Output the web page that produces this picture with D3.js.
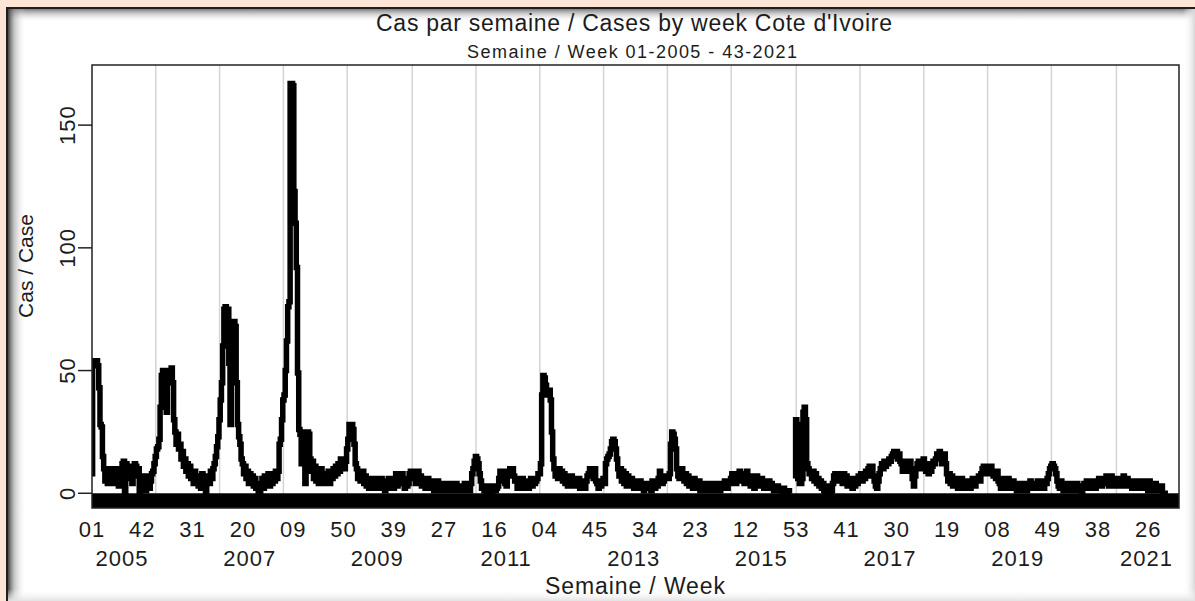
<!DOCTYPE html>
<html>
<head>
<meta charset="utf-8">
<script src="https://cdn.jsdelivr.net/npm/d3@7"></script>
<style>
  html, body { margin: 0; padding: 0; background: #fce4d6; }
  svg { display: block; }
  text { font-family: "Liberation Sans", Arial, sans-serif; fill: #1c1c1c; }
</style>
</head>
<body>
<svg id="chart" width="1195" height="601"></svg>
<script>
// ISO weeks in each year, 2005 .. 2021
var years = d3.range(2005, 2022);
var weeksInYear = [52,52,52,52,53,52,52,52,52,52,53,52,52,52,52,53,52];

// weekly cases, one array per year (null = no report)
var cases2005 = [8,54,54,53,54,52,43,28,27,15,10,5,9,4,8,10,5,9,4,7,10,5,3,8,10,12,13,0,12,8,11,6,9,4,10,12,11,7,10,0,6,2,7,3,1,6,7,2,5,8,9,12];
var cases2006 = [15,18,19,22,35,48,50,49,50,33,47,50,49,51,45,30,25,20,24,18,20,14,17,11,14,9,12,7,11,6,8,4,9,5,7,3,6,2,8,4,3,0,5,7,4,9,6,10,12,15,19,23];
var cases2007 = [30,38,45,60,75,76,74,75,53,28,55,70,70,68,45,28,23,20,14,12,8,11,6,9,4,8,5,7,3,6,2,4,0,0,4,6,2,7,3,5,8,3,7,4,8,5,9,6,9,20,22,30];
var cases2008 = [38,40,50,62,76,78,167,167,166,123,110,92,49,26,24,12,22,25,4,20,25,24,14,9,13,6,11,5,9,4,8,10,5,4,8,5,6,9,4,8,6,10,7,11,8,12,9,14,11,14,10,13];
var cases2009 = [18,22,28,27,28,26,20,12,10,6,9,5,7,9,4,7,3,6,2,5,6,2,4,6,2,3,5,2,6,3,4,1,5,2,6,2,4,5,2,6,8,3,7,4,5,8,5,2,6,3,4,8,9];
var cases2010 = [6,9,7,4,8,9,5,7,3,6,5,2,4,6,3,2,5,3,1,4,3,5,2,1,4,3,1,3,4,2,1,3,4,1,3,2,4,1,2,3,1,3,2,4,1,2,3,1,4,8,10,13];
var cases2011 = [15,14,12,8,5,2,3,1,3,0,2,3,1,0,2,3,1,2,3,6,9,6,9,5,4,3,7,9,10,8,10,7,5,6,2,5,3,4,6,2,4,3,5,2,4,6,3,6,4,5,6,8];
var cases2012 = [8,12,40,48,47,44,42,40,42,38,25,14,10,7,9,6,10,7,9,5,8,4,7,3,6,4,7,3,5,6,3,5,6,2,5,3,4,2,5,7,8,10,9,10,6,10,5,4,2,4,3,5];
var cases2013 = [6,4,12,14,15,16,18,21,22,21,18,14,10,7,10,5,9,4,8,3,7,5,3,6,4,2,5,3,4,2,5,3,4,1,3,4,2,3,4,1,5,3,2,4,3,6,9,7,4,5,6,7];
var cases2014 = [7,6,8,20,25,24,22,18,10,7,6,9,10,7,5,8,4,7,3,6,4,2,6,4,2,4,5,1,3,2,4,1,3,2,4,1,3,2,4,1,3,2,4,1,3,4,2,5,3,2,5,4];
var cases2015 = [6,8,5,7,4,8,6,9,5,8,7,4,8,9,6,5,3,7,5,2,5,7,4,6,3,6,4,2,5,2,4,5,2,4,3,1,3,2,3,1,1,2,0,2,1,0,0,1,0,null,null,null,6];
var cases2016 = [30,28,8,4,4,6,33,35,30,12,10,8,9,6,9,5,8,4,6,3,5,2,4,1,0,3,0,2,0,1,4,7,8,6,8,5,8,7,4,8,6,7,3,5,4,6,2,5,3,6,4,7];
var cases2017 = [7,8,5,8,6,9,7,10,11,9,11,7,5,3,2,5,8,10,12,10,13,11,13,12,14,13,15,16,17,16,17,14,16,13,12,9,11,13,10,9,12,13,10,6,3,7,10,12,13,10,12,13];
var cases2018 = [14,12,9,11,8,12,9,11,13,12,14,16,15,17,16,12,15,16,12,8,5,8,4,7,3,5,6,3,2,5,4,6,2,4,5,2,4,5,2,4,6,4,3,6,5,7,5,8,10,11,8,11];
var cases2019 = [10,11,8,11,9,7,9,6,9,5,4,2,6,5,2,5,3,6,4,2,4,5,2,4,1,3,4,2,1,3,4,2,1,4,3,5,3,2,4,2,4,5,2,4,5,3,2,5,4,6,8,10];
var cases2020 = [11,12,11,10,8,5,3,2,5,3,1,4,2,1,4,2,1,4,3,1,3,4,2,1,3,0,3,4,2,5,4,5,2,4,5,3,2,5,4,6,4,3,5,6,4,7,5,3,6,7,4,6,3];
var cases2021 = [6,4,6,3,6,5,7,4,3,6,5,3,5,2,4,5,3,2,5,4,2,4,5,2,4,3,1,5,3,4,2,1,4,3,1,3,1,3,0,0,0,0,0];

// axis labels: a week label every 41 weeks from 01-2005, year labels on odd years
var weekTicks = ["01","42","31","20","09","50","39","27","16","04","45","34","23","12","53","41","30","19","08","49","38","26"];
var yearLabels = ["2005","2007","2009","2011","2013","2015","2017","2019","2021"];
var yTicks = [0, 50, 100, 150];

var title = "Cas par semaine / Cases by week Cote d'Ivoire",
    subtitle = "Semaine / Week 01-2005 - 43-2021";

var allCases = [].concat(cases2005, cases2006, cases2007, cases2008, cases2009, cases2010,
  cases2011, cases2012, cases2013, cases2014, cases2015, cases2016, cases2017, cases2018,
  cases2019, cases2020, cases2021);
var series = allCases.map(function (v, i) { return { i: i, v: v }; });

// index of week 01 of every year
var yearStart = {};
var acc = 0;
years.forEach(function (yr, k) { yearStart[yr] = acc; acc += weeksInYear[k]; });
var lastWeek = acc - 1;

var svg = d3.select("#chart"),
    W = +svg.attr("width"),
    H = +svg.attr("height"),
    margin = { top: 65, right: 16, bottom: 93, left: 92 };

var x = d3.scaleLinear().domain([0, lastWeek]).range([margin.left, W - margin.right]);
var y = d3.scaleLinear().domain([-6, 174.5]).range([H - margin.bottom, margin.top]);

// ---- panel frame with inner shadow
var defs = svg.append("defs");
function grad(id, x2, y2, stops) {
  var g = defs.append("linearGradient").attr("id", id)
    .attr("x1", 0).attr("y1", 0).attr("x2", x2).attr("y2", y2);
  stops.forEach(function (s) {
    g.append("stop").attr("offset", s[0]).attr("stop-color", s[1]).attr("stop-opacity", s[2]);
  });
}
grad("shTop", 0, 1, [[0, "#6f6f6f", 0.9], [1, "#ffffff", 0]]);
grad("shLeft", 1, 0, [[0, "#3a3a3a", 0.95], [0.35, "#8a8a8a", 0.5], [1, "#ffffff", 0]]);
grad("shRight", 1, 0, [[0, "#ffffff", 0], [1, "#d8d8d8", 1]]);
grad("shBottom", 0, 1, [[0, "#ffffff", 0], [1, "#e2e2e2", 1]]);

svg.append("rect").attr("x", 6).attr("y", 7).attr("width", W).attr("height", H).attr("fill", "#fff");
svg.append("rect").attr("x", 8).attr("y", 9).attr("width", W).attr("height", 13).attr("fill", "url(#shTop)");
svg.append("rect").attr("x", 8).attr("y", 9).attr("width", 18).attr("height", H).attr("fill", "url(#shLeft)");
svg.append("rect").attr("x", 1183).attr("y", 9).attr("width", 12).attr("height", H).attr("fill", "url(#shRight)");
svg.append("rect").attr("x", 8).attr("y", 589).attr("width", W).attr("height", 12).attr("fill", "url(#shBottom)");
svg.append("rect").attr("x", 6).attr("y", 7).attr("width", W).attr("height", 2).attr("fill", "#1e1e1e");
svg.append("rect").attr("x", 6).attr("y", 7).attr("width", 2).attr("height", H).attr("fill", "#1e1e1e");

// ---- titles
svg.append("text")
  .attr("x", 634).attr("y", 31)
  .attr("text-anchor", "middle")
  .attr("textLength", 516)
  .style("font-size", "23px")
  .text(title);
svg.append("text")
  .attr("x", 632).attr("y", 58)
  .attr("text-anchor", "middle")
  .attr("textLength", 330)
  .style("font-size", "18px")
  .text(subtitle);

// ---- plot area
var plot = svg.append("g");
defs.append("clipPath").attr("id", "clip")
  .append("rect")
  .attr("x", x(0)).attr("y", y.range()[1])
  .attr("width", x(lastWeek) - x(0)).attr("height", y.range()[0] - y.range()[1]);

// yearly grid lines
plot.selectAll(".grid")
  .data(years.slice(1))
  .enter().append("line")
    .attr("class", "grid")
    .attr("x1", function (d) { return x(yearStart[d]); })
    .attr("x2", function (d) { return x(yearStart[d]); })
    .attr("y1", y.range()[1])
    .attr("y2", y.range()[0])
    .attr("stroke", "#d4d4d4")
    .attr("stroke-width", 1.5);

// black base band under zero
plot.append("rect")
  .attr("x", x(0))
  .attr("y", y(0))
  .attr("width", x(lastWeek) - x(0))
  .attr("height", y(y.domain()[0]) - y(0))
  .attr("fill", "#000");

var line = d3.line()
  .defined(function (d) { return d.v !== null; })
  .x(function (d) { return x(d.i); })
  .y(function (d) { return y(d.v); })
  .curve(d3.curveStep);

plot.append("path")
  .datum(series)
  .attr("clip-path", "url(#clip)")
  .attr("d", line)
  .attr("fill", "none")
  .attr("stroke", "#000")
  .attr("stroke-width", 5.5)
  .attr("stroke-linejoin", "miter");

// plot border
plot.append("rect")
  .attr("x", x(0)).attr("y", y.range()[1])
  .attr("width", x(lastWeek) - x(0))
  .attr("height", y.range()[0] - y.range()[1])
  .attr("fill", "none")
  .attr("stroke", "#222")
  .attr("stroke-width", 1.5);

// ---- y axis
var yAxis = svg.append("g");
yAxis.selectAll("line")
  .data(yTicks)
  .enter().append("line")
    .attr("x1", x(0) - 14).attr("x2", x(0))
    .attr("y1", function (d) { return y(d); })
    .attr("y2", function (d) { return y(d); })
    .attr("stroke", "#222")
    .attr("stroke-width", 1.5);
yAxis.selectAll("text")
  .data(yTicks)
  .enter().append("text")
    .attr("transform", function (d) { return "translate(75," + y(d) + ") rotate(-90)"; })
    .attr("text-anchor", "middle")
    .style("font-size", "22px")
    .style("letter-spacing", "1px")
    .text(function (d) { return d; });

svg.append("text")
  .attr("transform", "translate(33,266) rotate(-90)")
  .attr("text-anchor", "middle")
  .style("font-size", "21px")
  .text("Cas / Case");

// ---- x axis labels
svg.append("g").selectAll("text")
  .data(weekTicks)
  .enter().append("text")
    .attr("x", function (d, i) { return x(i * 41); })
    .attr("y", 537)
    .attr("text-anchor", "middle")
    .style("font-size", "22px")
    .style("letter-spacing", "1px")
    .text(function (d) { return d; });

svg.append("g").selectAll("text")
  .data(yearLabels)
  .enter().append("text")
    .attr("x", function (d) { return x(yearStart[+d] + 24.5); })
    .attr("y", 566)
    .attr("text-anchor", "middle")
    .style("font-size", "22px")
    .style("letter-spacing", "1px")
    .text(function (d) { return d; });

svg.append("text")
  .attr("x", 635).attr("y", 594)
  .attr("text-anchor", "middle")
  .attr("textLength", 180)
  .style("font-size", "23px")
  .text("Semaine / Week");
</script>
</body>
</html>
